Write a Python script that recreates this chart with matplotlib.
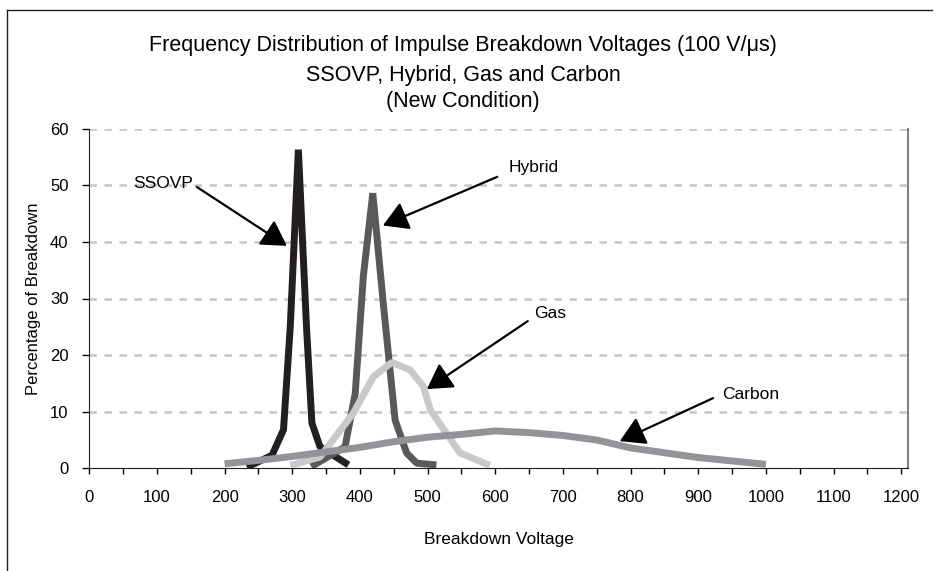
import matplotlib
matplotlib.use("Agg")
import matplotlib.pyplot as plt
import numpy as np

plt.rcParams['font.family'] = ['Liberation Sans', 'DejaVu Sans']

# ---- data ----
ssovp_v = [233, 270, 287, 297, 309, 321, 329, 341, 383]
ssovp_p = [0.2, 2.3, 6.8, 25.0, 56.3, 25.0, 8.0, 3.8, 0.6]

hybrid_v = [328, 378, 393, 405, 419, 435, 452, 469, 484, 513]
hybrid_p = [0.3, 3.8, 13.2, 33.9, 48.6, 28.5, 8.5, 2.7, 0.9, 0.6]

gas_v = [297, 341, 390, 420, 447, 474, 494, 504, 548, 592]
gas_p = [0.5, 2.0, 9.7, 16.2, 18.7, 17.4, 14.4, 10.3, 2.7, 0.5]

carbon_v = [200, 250, 300, 350, 400, 450, 500, 550, 600, 650, 700, 750, 800, 850, 900, 950, 1000]
carbon_p = [0.8, 1.4, 2.1, 2.9, 3.7, 4.7, 5.5, 6.0, 6.6, 6.3, 5.8, 5.0, 3.6, 2.75, 1.9, 1.3, 0.7]

series_names = ["SSOVP", "Hybrid", "Gas", "Carbon"]
series_colors = ["#231f20", "#58595b", "#c8c9cb", "#929497"]

x_ticks = list(range(0, 1201, 50))
x_tick_labels = [str(v) if v % 100 == 0 else "" for v in x_ticks]
y_ticks = [0, 10, 20, 30, 40, 50, 60]

title_lines = ["Frequency Distribution of Impulse Breakdown Voltages (100 V/\u03bcs)",
               "SSOVP, Hybrid, Gas and Carbon",
               "(New Condition)"]

# annotation: (text pos, arrow start, arrow tip) in data coords
annotations = {
    "SSOVP": ((109, 50.3), (159, 49.7), (292, 39.3)),
    "Hybrid": ((657, 53.2), (603, 51.5), (434, 42.9)),
    "Gas": ((681, 27.4), (648, 26.0), (499, 14.0)),
    "Carbon": ((977, 13.0), (922, 12.4), (784, 4.8)),
}

W, H = 940, 571
fig = plt.figure(figsize=(W / 100, H / 100), dpi=100)
ax = fig.add_axes([89.3 / W, (H - 468.3) / H, (908 - 89.3) / W, (468.3 - 128.7) / H])

for v, p, c in zip([ssovp_v, hybrid_v, gas_v, carbon_v],
                   [ssovp_p, hybrid_p, gas_p, carbon_p], series_colors):
    ax.plot(v, p, color=c, lw=5, solid_joinstyle='bevel', solid_capstyle='butt', zorder=3)

ax.set_xlim(0, 1210)
ax.set_ylim(0, 60)
ax.set_xticks(x_ticks)
ax.set_xticklabels(x_tick_labels)
ax.set_yticks(y_ticks)
ax.tick_params(axis='x', direction='out', length=6 * 0.72, width=1, pad=11, labelsize=12)
ax.tick_params(axis='y', direction='out', length=7 * 0.72, width=1, pad=10, labelsize=12)

for y in y_ticks[1:]:
    ax.axhline(y, color="#c3c6cf", lw=1.8, dashes=(3, 3), zorder=1)

ax.spines['top'].set_visible(False)
ax.spines['left'].set_color('#231f20')
ax.spines['bottom'].set_color('#231f20')
ax.spines['right'].set_color('#808080')
ax.spines['right'].set_linewidth(1.5)

ax.set_xlabel("Breakdown Voltage", fontsize=12.5, labelpad=20)
ax.set_ylabel("Percentage of Breakdown", fontsize=12, labelpad=6)

for name, (tpos, start, tip) in annotations.items():
    ax.text(tpos[0], tpos[1], name, ha='center', va='center', fontsize=12.5, zorder=5)
    ax.annotate("", xy=tip, xytext=start,
                arrowprops=dict(arrowstyle='-|>,head_length=0.85,head_width=0.5',
                                mutation_scale=18, lw=1.6, color='black',
                                shrinkA=0, shrinkB=0), zorder=6)

ys = [46, 75, 101]
for line, y in zip(title_lines, ys):
    fig.text(463 / W, 1 - y / H, line, ha='center', va='center', fontsize=15.5)

# outer frame (left and top)
fig.add_artist(plt.Line2D([7 / W, 7 / W], [0, 1 - 10 / H], transform=fig.transFigure, color='#231f20', lw=1))
fig.add_artist(plt.Line2D([7 / W, 932 / W], [1 - 10 / H, 1 - 10 / H], transform=fig.transFigure, color='#231f20', lw=1))

fig.savefig("out.png", dpi=100)
